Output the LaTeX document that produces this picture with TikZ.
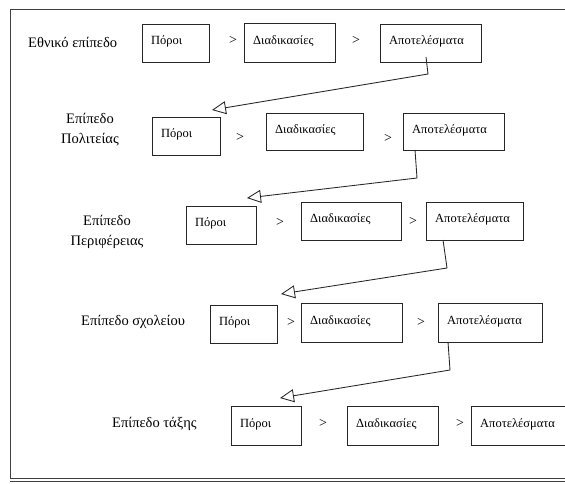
\documentclass[tikz,border=0pt]{standalone}
\usepackage{fontspec}
\setmainfont{Liberation Serif}
\usetikzlibrary{arrows.meta}

% box with its caption set a little above the vertical middle, left aligned
\newcommand\stagebox[6]{%
  \node[stage, minimum width=#4pt, minimum height=#5pt] (#1) at (#2,#3) {};
  \node[stagetext] (#1-t) at ([xshift=9pt,yshift=2pt]#1.west) {#6};}

\begin{document}
\begin{tikzpicture}[x=1pt,y=-1pt,
  stage/.style={draw=black!85, line width=0.85pt, inner sep=0pt, anchor=north west},
  stagetext/.style={inner sep=0pt, anchor=west, font=\fontsize{12.5}{14}\selectfont},
  levelname/.style={inner sep=0pt, font=\fontsize{14.5}{20}\selectfont},
  gt/.style={inner sep=0pt, font=\fontsize{14}{16}\selectfont},
  frameline/.style={draw=black!75, line width=0.9pt},
  flow/.style={draw=black!85, line width=0.85pt,
    -{Triangle[open, length=14pt, width=13pt, line width=0.85pt]}}]
\useasboundingbox (0,0) rectangle (565,483);
\fill[white] (0,0) rectangle (565,483);

% outer frame, open to the right, doubled at the bottom
\draw[frameline] (572,9) -- (10,9) -- (10,478) -- (572,478);
\draw[frameline] (10,481.5) -- (572,481.5);

% national level
\node[levelname, anchor=west] (l1) at (28,42) {Εθνικό επίπεδο};
\stagebox{b11}{142}{24}{67}{38}{Πόροι}
\node[gt] (g11) at (233,40) {>};
\stagebox{b12}{244}{23}{91}{39}{Διαδικασίες}
\node[gt] (g12) at (356,40) {>};
\stagebox{b13}{380}{24}{101}{38}{Αποτελέσματα}

% state level
\node[levelname, align=center] (l2) at (90,130) {Επίπεδο\\Πολιτείας};
\stagebox{b21}{152}{117}{68}{38}{Πόροι}
\node[gt] (g21) at (240,137) {>};
\stagebox{b22}{266}{113}{97}{37}{Διαδικασίες}
\node[gt] (g22) at (388,138) {>};
\stagebox{b23}{403}{113}{101}{37}{Αποτελέσματα}

% regional level
\node[levelname, align=center] (l3) at (107,232) {Επίπεδο\\Περιφέρειας};
\stagebox{b31}{186}{206}{70}{38}{Πόροι}
\node[gt] (g31) at (280,222) {>};
\stagebox{b32}{301}{202}{100}{38}{Διαδικασίες}
\node[gt] (g32) at (413,221) {>};
\stagebox{b33}{426}{202}{97}{38}{Αποτελέσματα}

% school level
\node[levelname, anchor=west] (l4) at (81,322) {Επίπεδο σχολείου};
\stagebox{b41}{210}{305}{67}{38}{Πόροι}
\node[gt] (g41) at (291,322) {>};
\stagebox{b42}{301}{303}{101}{39}{Διαδικασίες}
\node[gt] (g42) at (421,322) {>};
\stagebox{b43}{438}{303}{104}{39}{Αποτελέσματα}

% class level
\node[levelname, anchor=west] (l5) at (112,424) {Επίπεδο τάξης};
\stagebox{b51}{231}{406}{70}{39}{Πόροι}
\node[gt] (g51) at (323,423) {>};
\stagebox{b52}{347}{406}{91}{39}{Διαδικασίες}
\node[gt] (g52) at (460,423) {>};
\stagebox{b53}{471}{406}{97}{39}{Αποτελέσματα}

% connectors from each level's results down to the next level
\coordinate (a1s) at (426,57);  \coordinate (a1k) at (428,74);  \coordinate (a1e) at (212,110);
\coordinate (a2s) at (415,150); \coordinate (a2k) at (417,178); \coordinate (a2e) at (247,198);
\coordinate (a3s) at (443,240); \coordinate (a3k) at (447,268); \coordinate (a3e) at (281,294);
\coordinate (a4s) at (448,342); \coordinate (a4k) at (450,370); \coordinate (a4e) at (280,398);
\draw[flow] (a1s) -- (a1k) -- (a1e);
\draw[flow] (a2s) -- (a2k) -- (a2e);
\draw[flow] (a3s) -- (a3k) -- (a3e);
\draw[flow] (a4s) -- (a4k) -- (a4e);
\end{tikzpicture}
\end{document}
